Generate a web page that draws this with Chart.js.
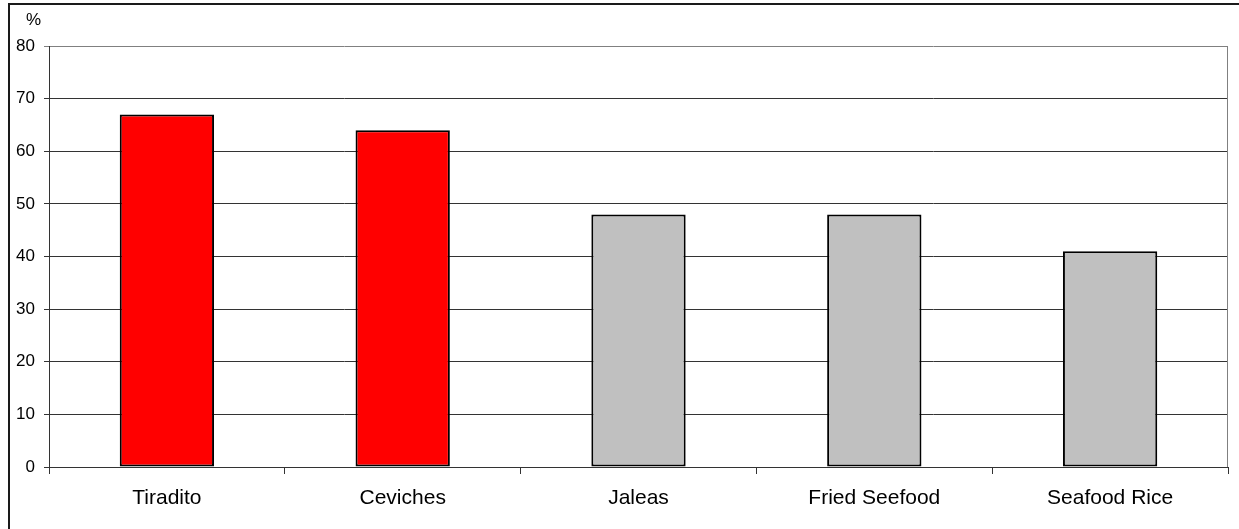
<!DOCTYPE html>
<html>
<head>
<meta charset="utf-8">
<script src="https://cdn.jsdelivr.net/npm/chart.js@4.4.1/dist/chart.umd.min.js"></script>
<style>
  html, body { margin: 0; padding: 0; background: #fff; overflow: hidden; }
  #wrap { position: relative; width: 1239px; height: 529px; }
</style>
</head>
<body>
<div id="wrap"><canvas id="c" width="1239" height="529"></canvas></div>
<script>
// Share of respondents per dish (%)
const categories = ['Tiradito', 'Ceviches', 'Jaleas', 'Fried Seefood', 'Seafood Rice'];
const shares = [67, 64, 48, 48, 41];
const barColors = ['#FF0000', '#FF0000', '#C0C0C0', '#C0C0C0', '#C0C0C0'];
const yTicks = [0, 10, 20, 30, 40, 50, 60, 70, 80];
const unitLabel = '%';

const FONT = '"Liberation Sans", Arial, sans-serif';
const GRID = '#333333';

// Outer frame, right plot border and the unit label above the value axis
const decorations = {
  id: 'decorations',
  beforeDraw(chart) {
    const ctx = chart.ctx;
    ctx.save();
    ctx.strokeStyle = '#1a1a1a';
    ctx.lineWidth = 2;
    ctx.beginPath();
    ctx.moveTo(9, chart.height + 5);
    ctx.lineTo(9, 4);
    ctx.lineTo(chart.width + 5, 4);
    ctx.stroke();
    ctx.restore();
  },
  afterDraw(chart) {
    const ctx = chart.ctx;
    const a = chart.chartArea;
    ctx.save();
    ctx.strokeStyle = '#808080';
    ctx.lineWidth = 1;
    ctx.beginPath();
    ctx.moveTo(a.right - 0.5, a.top);
    ctx.lineTo(a.right - 0.5, a.bottom);
    ctx.stroke();
    ctx.fillStyle = '#000';
    ctx.font = '17px ' + FONT;
    ctx.textAlign = 'left';
    ctx.textBaseline = 'alphabetic';
    ctx.fillText(unitLabel, 26, 25);
    ctx.restore();
  }
};

new Chart(document.getElementById('c'), {
  type: 'bar',
  data: {
    labels: categories,
    datasets: [{
      data: shares,
      backgroundColor: barColors,
      borderColor: '#000',
      borderWidth: 2,
      borderSkipped: false,
      barPercentage: 0.4,
      categoryPercentage: 1
    }]
  },
  options: {
    responsive: false,
    animation: false,
    devicePixelRatio: 1,
    layout: { padding: { top: 46, right: 11, bottom: 0, left: 0 } },
    plugins: { legend: { display: false }, tooltip: { enabled: false } },
    scales: {
      x: {
        offset: true,
        grid: { offset: true, drawOnChartArea: false, tickLength: 7, color: GRID },
        border: { color: GRID },
        ticks: { padding: 12, color: '#000', font: { family: FONT, size: 21 }, maxRotation: 0 },
        afterFit(s) { s.height = 62; }
      },
      y: {
        min: 0,
        max: 80,
        afterBuildTicks(s) { s.ticks = yTicks.map(v => ({ value: v })); },
        grid: {
          tickLength: 5,
          color: ctx => (ctx.tick && ctx.tick.value === 80 ? '#808080' : GRID)
        },
        border: { color: GRID },
        ticks: { padding: 9, color: '#000', font: { family: FONT, size: 17 } },
        afterFit(s) { s.width = 49; }
      }
    }
  },
  plugins: [decorations]
});
</script>
</body>
</html>
